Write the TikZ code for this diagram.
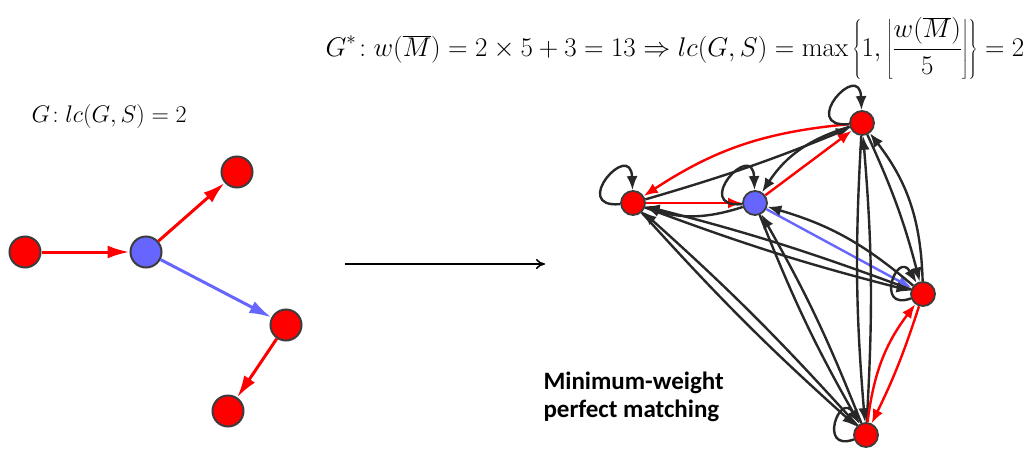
\RequirePackage{fix-cm}
\documentclass[tikz,border=0pt]{standalone}
\usepackage{fontspec}
\newfontfamily\carlito{Carlito}
\usetikzlibrary{arrows.meta}
\definecolor{myblue}{RGB}{102,102,255}
\definecolor{bord}{RGB}{60,60,60}
\definecolor{edgeblk}{RGB}{40,40,40}
\begin{document}
\begin{tikzpicture}[x=1pt,y=-1pt,
  bignode/.style={circle,draw=bord,line width=2pt,minimum size=31pt,inner sep=0pt},
  smallnode/.style={circle,draw=bord,line width=1.8pt,minimum size=24pt,inner sep=0pt},
  rfill/.style={fill=red},
  bfill/.style={fill=myblue},
  bigedge/.style={line width=3pt,-{Latex[length=22pt,width=13pt]}},
  sedge/.style={line width=2.4pt,-{Latex[length=14pt,width=11pt]}},
  blk/.style={sedge,draw=edgeblk},
  rd/.style={sedge,draw=red},
  bl/.style={sedge,draw=myblue},
  mathtxt/.style={font=\fontsize{27}{32}\selectfont}]
\useasboundingbox (0,0) rectangle (1034,450);

% left graph
\node[bignode,rfill] (A) at (25,252) {};
\node[bignode,bfill] (B) at (146,252) {};
\node[bignode,rfill] (C) at (237,172) {};
\node[bignode,rfill] (D) at (286,325) {};
\node[bignode,rfill] (E) at (228,411) {};
\draw[bigedge,draw=red] (A) -- (B);
\draw[bigedge,draw=red] (B) -- (C);
\draw[bigedge,draw=myblue] (B) -- (D);
\draw[bigedge,draw=red] (D) -- (E);

\node[anchor=base west,font=\fontsize{24}{28}\selectfont] (lab) at (28,122) {$G\!: lc(G,S) = 2$};

% transform arrow
\coordinate (t1) at (345,264);
\coordinate (t2) at (545,264);
\draw[line width=1.6pt,-{To[length=9pt,width=10pt]}] (t1) -- (t2);

% formula
\node[anchor=base west,mathtxt] (form) at (322,56)
 {$\displaystyle G^*\!: w\bigl(\overline{M}\bigr) = 2\times 5 + 3 = 13 \Rightarrow lc(G,S) = \max\left\{1, \left\lfloor \frac{w\bigl(\overline{M}\bigr)}{5}\right\rfloor\right\} = 2$};

% right graph
\node[smallnode,rfill] (P) at (633,203) {};
\node[smallnode,bfill] (Q) at (755,203) {};
\node[smallnode,rfill] (R) at (862,123) {};
\node[smallnode,rfill] (S) at (923,294) {};
\node[smallnode,rfill] (T) at (866,435) {};

% P-Q
\draw[rd] (P) -- (Q);
\draw[blk] (Q) to[bend left=18] (P);
% P-R
\draw[rd] (R) to[bend right=14] (P);
\draw[blk] (P) to[bend right=3] (R);
% Q-R
\draw[rd] (Q) -- (R);
\draw[blk] (R) to[bend right=20] (Q);
% Q-S
\draw[bl] (Q) -- (S);
\draw[blk] (S) to[bend right=12] (Q);
% P-S
\draw[blk] (P) to[bend right=3] (S);
\draw[blk] (S) to[bend right=3] (P);
% P-T
\draw[blk] (P) to[bend right=3] (T);
\draw[blk] (T) to[bend right=3] (P);
% Q-T
\draw[blk] (Q) to[bend right=4] (T);
\draw[blk] (T) to[bend right=4] (Q);
% R-T
\draw[blk] (R) to[bend right=4] (T);
\draw[blk] (T) to[bend right=4] (R);
% R-S
\draw[blk] (R) to[bend left=5] (S);
\draw[blk] (S) to[bend right=18] (R);
% S-T
\draw[rd] (S) to[bend left=4] (T);
\draw[rd] (T) to[bend left=15] (S);

% self loops
\draw[blk] (P) to[out=185,in=92,looseness=7] (P);
\draw[blk] (Q) to[out=185,in=92,looseness=7] (Q);
\draw[blk] (R) to[out=185,in=92,looseness=7] (R);
\draw[blk] (S) to[out=200,in=120,looseness=6] (S);
\draw[blk] (T) to[out=200,in=120,looseness=6] (T);

\node[anchor=north west,align=left,font={\carlito\bfseries\fontsize{25}{28}\selectfont}] (mw) at (540,368) {Minimum-weight\\perfect matching};
\end{tikzpicture}
\end{document}
